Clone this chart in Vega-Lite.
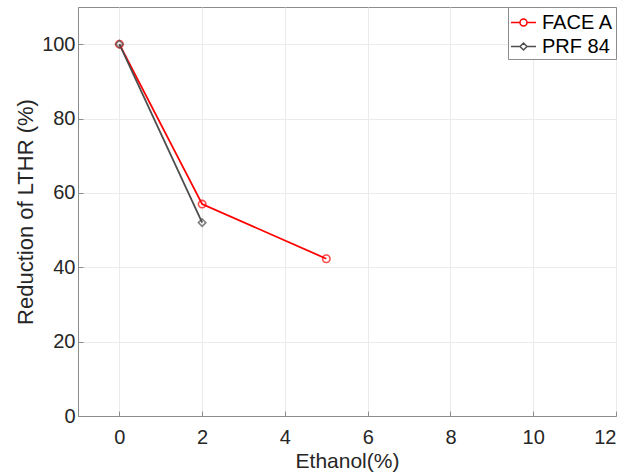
{
  "$schema": "https://vega.github.io/schema/vega-lite/v6.json",
  "width": 538,
  "height": 409,
  "autosize": {"type": "none"},
  "padding": {"left": 78, "top": 7, "right": 24, "bottom": 59},
  "background": "white",
  "config": {
    "font": "Liberation Sans",
    "view": {"stroke": "#8c8c8c", "strokeWidth": 1},
    "axis": {
      "domainColor": "#8c8c8c",
      "gridColor": "#ebebeb",
      "gridOpacity": 1,
      "tickColor": "#8c8c8c",
      "labelColor": "#262626",
      "titleColor": "#262626",
      "labelFontSize": 20,
      "titleFontSize": 21,
      "titleFontWeight": "normal",
      "tickSize": -5
    }
  },
  "data": {
    "values": [
      {"ethanol": 0, "reduction": 100, "series": "FACE A"},
      {"ethanol": 2, "reduction": 57, "series": "FACE A"},
      {"ethanol": 5, "reduction": 42.3, "series": "FACE A"},
      {"ethanol": 0, "reduction": 100, "series": "PRF 84"},
      {"ethanol": 2, "reduction": 52, "series": "PRF 84"}
    ]
  },
  "encoding": {
    "x": {
      "field": "ethanol",
      "type": "quantitative",
      "scale": {"domain": [-1, 12], "nice": false, "zero": false},
      "axis": {"values": [0, 2, 4, 6, 8, 10, 12], "title": "Ethanol(%)", "labelPadding": 16, "titlePadding": 3}
    },
    "y": {
      "field": "reduction",
      "type": "quantitative",
      "scale": {"domain": [0, 110], "nice": false},
      "axis": {"values": [0, 20, 40, 60, 80, 100], "title": "Reduction of LTHR (%)", "titleFontSize": 22, "labelPadding": 8, "titlePadding": 4}
    },
    "color": {
      "field": "series",
      "type": "nominal",
      "scale": {"domain": ["FACE A", "PRF 84"], "range": ["#ff0000", "#4d4d4d"]}
    }
  },
  "layer": [
    {
      "mark": {"type": "line", "strokeWidth": 1.8},
      "encoding": {
        "color": {
          "field": "series",
          "type": "nominal",
          "legend": {
            "title": null,
            "orient": "top-right",
            "offset": 0,
            "padding": 2,
            "strokeColor": "#8c8c8c",
            "fillColor": "white",
            "labelFontSize": 20,
            "labelColor": "#000000",
            "rowPadding": 0,
            "symbolSize": 625,
            "symbolStrokeWidth": 1.5,
            "labelOffset": 5,
            "encode": {
              "symbols": {
                "update": {
                  "fill": {"value": "transparent"},
                  "shape": {
                    "signal": "datum.value === 'FACE A' ? 'M-1,0H-0.28M0.28,0H1M-0.28,0A0.28,0.28 0 1,1 0.28,0A0.28,0.28 0 1,1 -0.28,0' : 'M-1,0H-0.28M0.28,0H1M-0.28,0L0,-0.28L0.28,0L0,0.28Z'"
                  }
                }
              }
            }
          }
        }
      }
    },
    {
      "transform": [{"filter": "datum.series === 'FACE A'"}],
      "mark": {"type": "point", "shape": "circle", "filled": false, "strokeWidth": 1.6, "size": 55}
    },
    {
      "transform": [{"filter": "datum.series === 'PRF 84'"}],
      "mark": {"type": "point", "shape": "diamond", "filled": false, "strokeWidth": 1.6, "size": 55}
    }
  ]
}
